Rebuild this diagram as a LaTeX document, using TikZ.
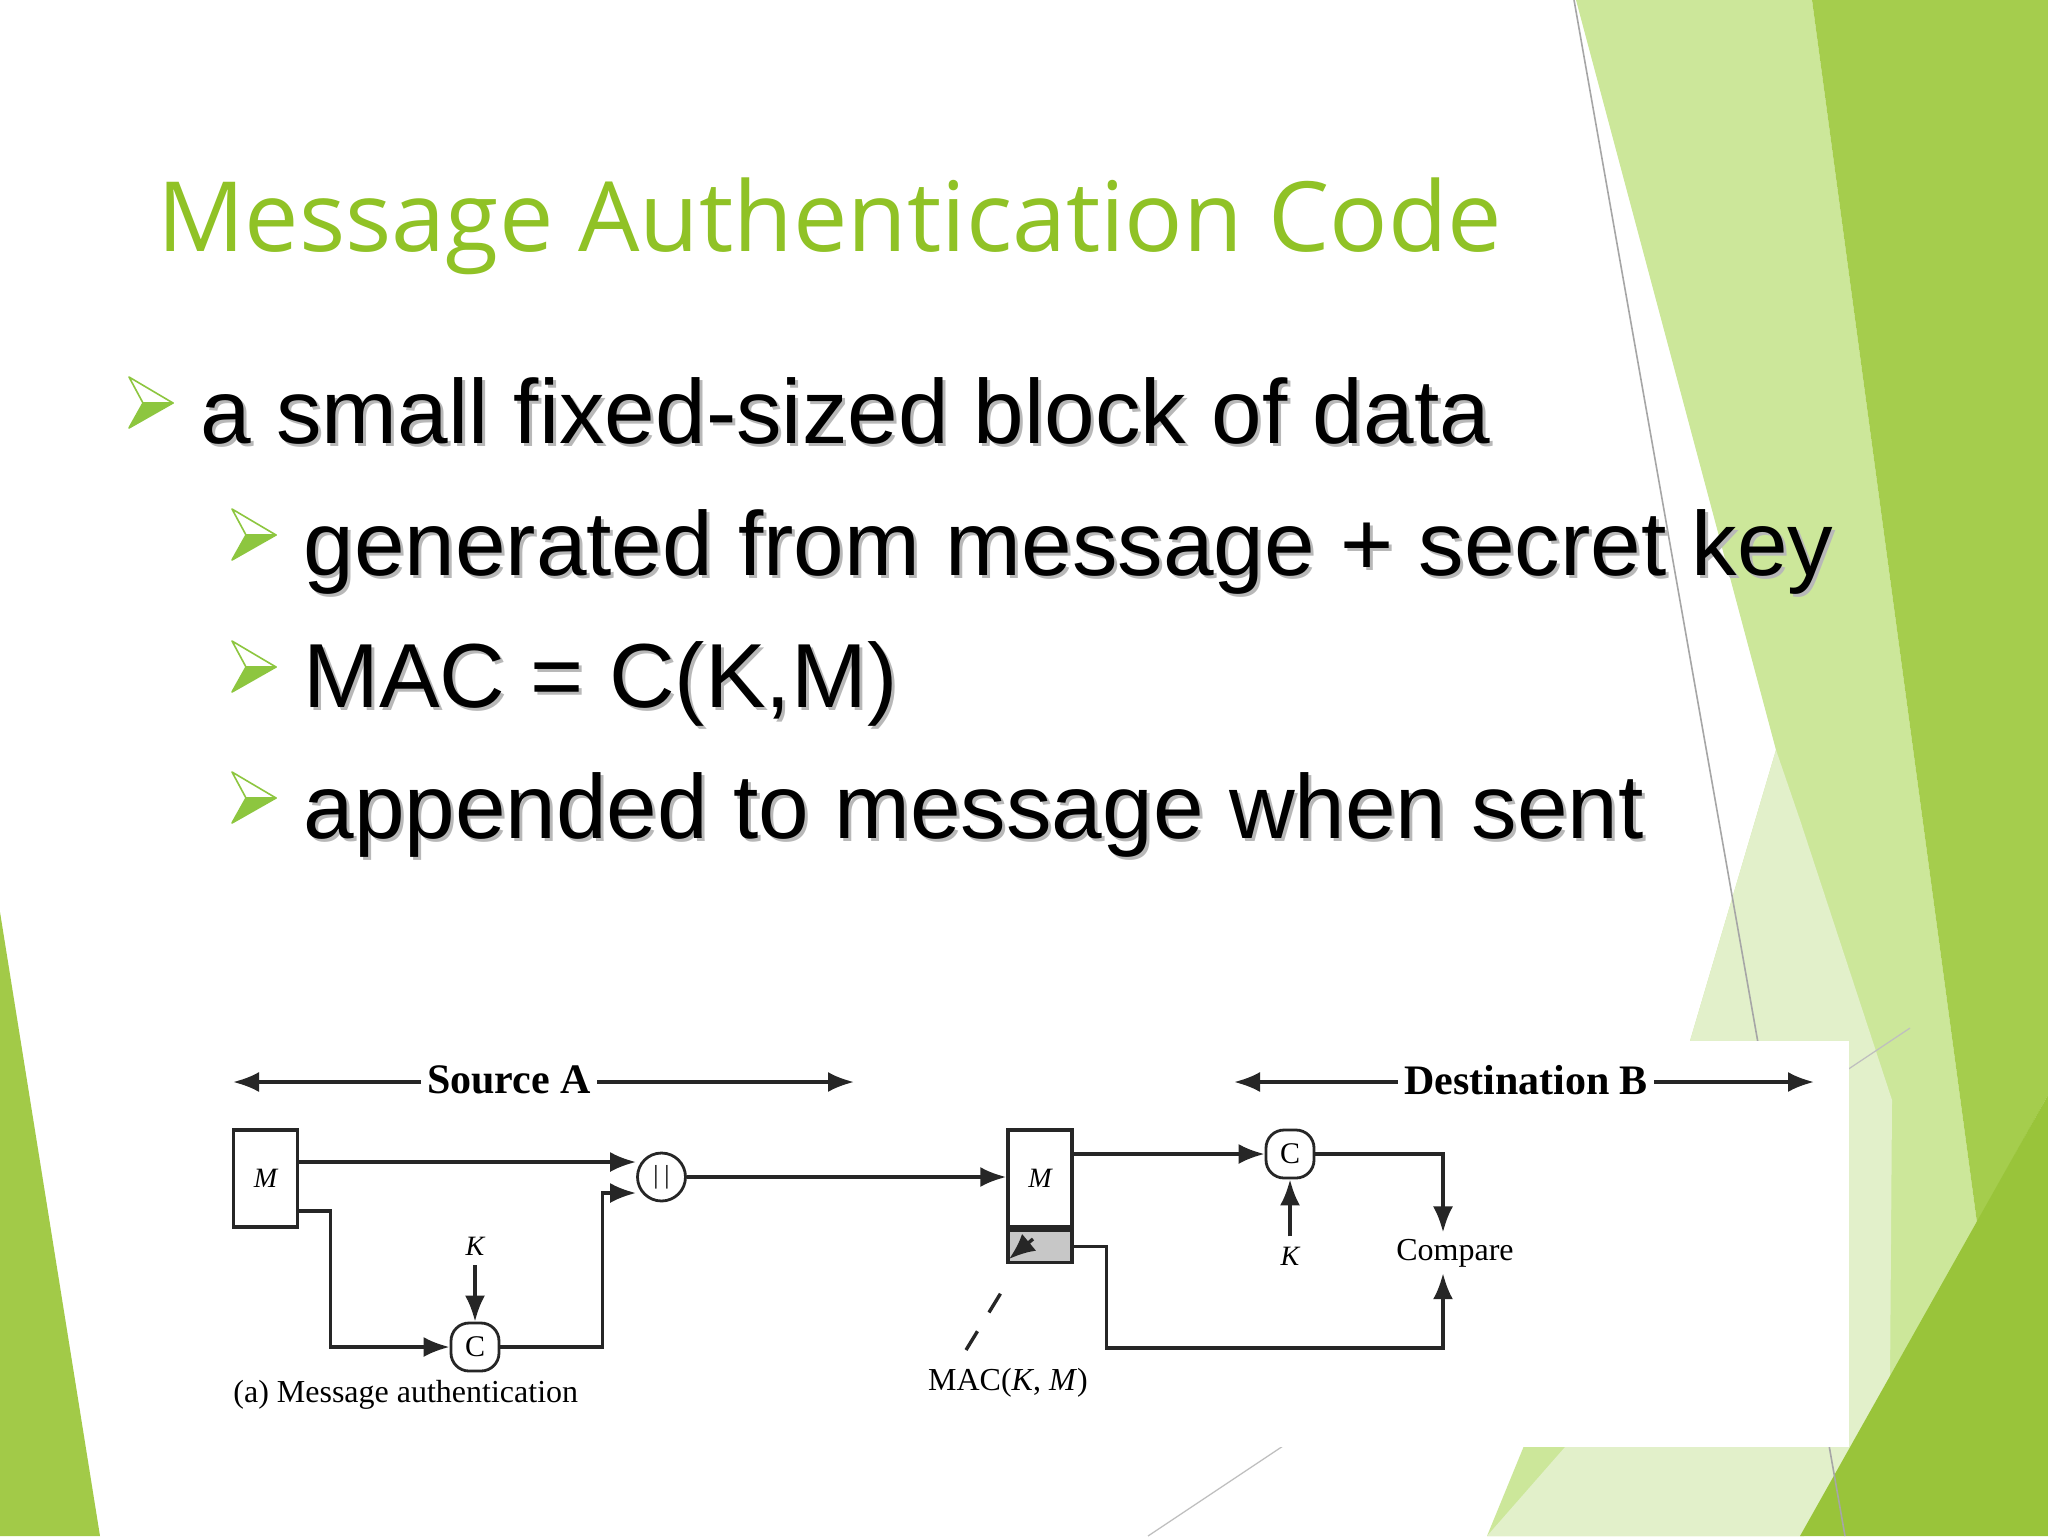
\documentclass[tikz,border=0pt]{standalone}
\usepackage{fontspec}
\setmainfont{Liberation Serif}
\newfontfamily\titlefont{Open Sans}
\newfontfamily\bulletfont{Liberation Sans}
\usetikzlibrary{arrows.meta,positioning}
\definecolor{titlegreen}{HTML}{90C226}
\definecolor{bulletgreen}{HTML}{8DC63F}
\definecolor{greenlight}{HTML}{CCE79A}
\definecolor{greenpale}{HTML}{E2F0CA}
\definecolor{greenmid}{HTML}{A5CD4D}
\definecolor{greendark}{HTML}{99C43A}
\definecolor{greenleft}{HTML}{A2CA48}

\begin{document}
\begin{tikzpicture}[x=0.5pt,y=-0.5pt,
    wire/.style={line width=1.7pt,draw=black!85},
    flow/.style={wire,-{Latex[length=13pt,width=10pt]}},
    msgbox/.style={draw=black!85,line width=1.7pt,minimum width=32pt,minimum height=48.5pt,inner sep=0pt,font=\fontsize{14pt}{14pt}\selectfont\itshape},
    opnode/.style={draw=black!85,line width=1.4pt,rounded corners=9pt,minimum size=24pt,inner sep=0pt,font=\fontsize{15pt}{15pt}\selectfont},
    catnode/.style={circle,draw=black!85,line width=1.4pt,minimum size=24pt,inner sep=0pt,font=\fontsize{13pt}{13pt}\selectfont},
    lbl/.style={inner sep=3pt,font=\fontsize{16pt}{16pt}\selectfont},
    keylbl/.style={inner sep=5pt,font=\fontsize{14pt}{14pt}\selectfont\itshape},
    heading/.style={inner xsep=3pt,inner ysep=0pt,font=\fontsize{21pt}{21pt}\selectfont\bfseries},
    bullettext/.style={anchor=base west,inner sep=0pt,font=\bulletfont\fontsize{45.5pt}{48pt}\selectfont}]

  \fill[white] (0,0) rectangle (2048,1536);
  \useasboundingbox (0,0) rectangle (2048,1536);

  % slide decoration
  \fill[greenlight] (1576,0) -- (1812,0) -- (1977,1223) -- (1804,1536) -- (1487,1536) -- (1690,1041) -- (1776,750) -- cycle;
  \fill[greenpale] (1776,750) -- (1690,1041) -- (1565,1447) -- (1487,1536) -- (1804,1536) -- (1890,1380) -- (1892,1100) -- (1800,820) -- cycle;
  \fill[greenmid] (1812,0) -- (2048,0) -- (2048,1095) -- (1977,1223) -- cycle;
  \fill[greendark] (2048,1095) -- (2048,1536) -- (1800,1536) -- cycle;
  \fill[greenleft] (0,912) -- (100,1536) -- (0,1536) -- cycle;
  \draw[black!35,line width=0.8pt] (1574,0) -- (1845,1536);
  \draw[black!25,line width=0.6pt] (1910,1028) -- (1148,1536);

  \node[anchor=base west,inner sep=0pt,text=titlegreen,font=\titlefont\fontsize{48.5pt}{50pt}\selectfont] (title) at (157,251) {Message Authentication Code};

  \foreach \bx/\by/\btext [count=\i] in {129/443/{a small fixed-sized block of data},
      232/575/{generated from message + secret key},
      232/707/{MAC = C(K,M)},
      232/838/{appended to message when sent}} {
    \filldraw[draw=bulletgreen,fill=white,line width=0.8pt,line join=round] (\bx,\by-66) -- (\bx+44,\by-40) -- (\bx+14,\by-40) -- cycle;
    \filldraw[draw=bulletgreen,fill=bulletgreen,line width=0.8pt,line join=round] (\bx+14,\by-40) -- (\bx+44,\by-40) -- (\bx,\by-15) -- cycle;
    \node[bullettext,text=black!28] (shadow\i) at (\bx+74,\by+3) {\btext};
    \node[bullettext] (bullet\i) at (\bx+71,\by) {\btext};
  }

  % figure
  \fill[white] (205,1041) rectangle (1849,1447);

  \node[heading] (srcA) at (509,1080) {Source A};
  \coordinate (srcL) at (233,1082);
  \coordinate (srcR) at (854,1082);
  \draw[flow] (srcA.west |- srcL) -- (srcL);
  \draw[flow] (srcA.east |- srcR) -- (srcR);
  \node[heading] (dstB) at (1526,1080) {Destination B};
  \coordinate (dstL) at (1234,1082);
  \coordinate (dstR) at (1814,1082);
  \draw[flow] (dstB.west |- dstL) -- (dstL);
  \draw[flow] (dstB.east |- dstR) -- (dstR);

  \node[msgbox] (m1) at (265.5,1178.5) {M};
  \node[catnode] (cat) at (661.5,1177) {\textbar\hspace{3pt}\textbar};
  \node[opnode] (c1) at (475,1347) {C};
  \node[keylbl,anchor=base] (k1) at (475,1255) {K};
  \draw[flow] ([yshift=8.25pt]m1.east) -- ([yshift=8.25pt]m1.east -| cat.west);
  \draw[flow] ([yshift=-16.25pt]m1.east) -- ++(31,0) |- (c1.west);
  \draw[flow] (k1) -- (c1);
  \draw[flow] (c1.east) -| ([xshift=-16.75pt,yshift=-8pt]cat.west) -- ([yshift=-8pt]cat.west);
  \node[lbl,anchor=base west,inner sep=0pt] (capA) at (233,1402) {(a) Message authentication};

  \node[msgbox] (m2) at (1040,1178.5) {M};
  \node[draw=black!85,fill=black!22,line width=1.7pt,minimum width=32pt,minimum height=16pt,inner sep=0pt,anchor=north] (tag) at (m2.south) {};
  \draw[flow] (cat.east) -- (cat.east -| m2.west);
  \node[opnode] (c2) at (1290,1154) {C};
  \node[keylbl,anchor=base] (k2) at (1290,1265) {K};
  \draw[flow] ([yshift=12.25pt]m2.east) -- ([yshift=12.25pt]m2.east -| c2.west);
  \draw[flow] (k2) -- (c2);
  \node[lbl,anchor=base] (cmp) at (1455,1260) {Compare};
  \coordinate (cmpbot) at (1443,1348);
  \draw[flow] (c2.east) -| (cmpbot |- cmp.north);
  \draw[flow] (tag.east) -- ++(33,0) |- (cmpbot) -- (cmpbot |- cmp.south);

  \node[lbl,anchor=base] (mac) at (1008,1390) {MAC(\textit{K}, \textit{M})};
  \coordinate (macfoot) at (966,1350);
  \coordinate (machead) at (1010,1278);
  \coordinate (tagtip) at (1009,1259);
  \draw[wire,dash pattern=on 11pt off 11pt] (macfoot) -- (machead);
  \draw[wire,-{Latex[length=13pt,width=11pt]}] ([xshift=12pt,yshift=10pt]tagtip) -- (tagtip);
\end{tikzpicture}
\end{document}
